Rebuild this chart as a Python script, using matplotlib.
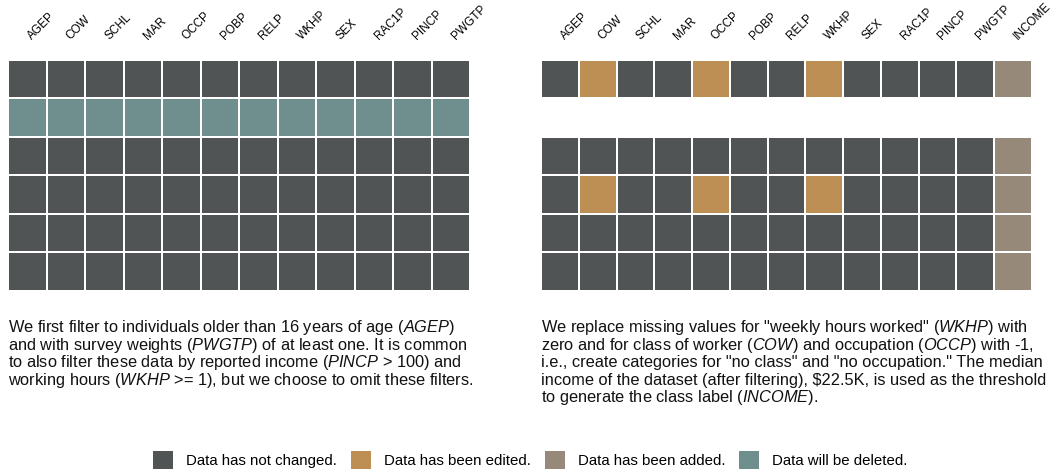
import numpy as np
import matplotlib.pyplot as plt
from matplotlib.colors import ListedColormap
from matplotlib.patches import Patch
from matplotlib.transforms import ScaledTranslation

plt.rcParams["font.family"] = "Liberation Sans"
plt.rcParams["mathtext.fontset"] = "custom"
plt.rcParams["mathtext.rm"] = "Liberation Sans"
plt.rcParams["mathtext.it"] = "Liberation Sans:italic"

# column names
left_cols = ["AGEP", "COW", "SCHL", "MAR", "OCCP", "POBP", "RELP",
             "WKHP", "SEX", "RAC1P", "PINCP", "PWGTP"]
right_cols = left_cols + ["INCOME"]

# cell states: 0 unchanged, 1 edited, 2 added, 3 deleted, nan = removed row
left_states = np.array([
    [0] * 12,
    [3] * 12,
    [0] * 12,
    [0] * 12,
    [0] * 12,
    [0] * 12,
], dtype=float)

right_states = np.array([
    [0, 1, 0, 0, 1, 0, 0, 1, 0, 0, 0, 0, 2],
    [np.nan] * 13,
    [0, 0, 0, 0, 0, 0, 0, 0, 0, 0, 0, 0, 2],
    [0, 1, 0, 0, 1, 0, 0, 1, 0, 0, 0, 0, 2],
    [0, 0, 0, 0, 0, 0, 0, 0, 0, 0, 0, 0, 2],
    [0, 0, 0, 0, 0, 0, 0, 0, 0, 0, 0, 0, 2],
])

state_labels = ["Data has not changed.", "Data has been edited.",
                "Data has been added.", "Data will be deleted."]
state_colors = ["#505455", "#bd8f54", "#978979", "#6f8f8f"]

left_lines = [
    "We first filter to individuals older than 16 years of age ($\\it{AGEP}$)",
    "and with survey weights ($\\it{PWGTP}$) of at least one. It is common",
    "to also filter these data by reported income ($\\it{PINCP}$ > 100) and",
    "working hours ($\\it{WKHP}$ >= 1), but we choose to omit these filters.",
]
right_lines = [
    "We replace missing values for \"weekly hours worked\" ($\\it{WKHP}$) with",
    "zero and for class of worker ($\\it{COW}$) and occupation ($\\it{OCCP}$) with -1,",
    "i.e., create categories for \"no class\" and \"no occupation.\" The median",
    "income of the dataset (after filtering), \\$22.5K, is used as the threshold",
    "to generate the class label ($\\it{INCOME}$).",
]

cmap = ListedColormap(state_colors)
W, H = 1062, 473
fig = plt.figure(figsize=(W / 100, H / 100), dpi=100)


def grid(ax, states, cols):
    data = np.ma.masked_invalid(states)
    ax.pcolormesh(data, cmap=cmap, vmin=-0.5, vmax=3.5,
                  edgecolors="white", linewidth=1.2)
    ax.set_xlim(0, states.shape[1])
    ax.set_ylim(states.shape[0], 0)
    ax.xaxis.tick_top()
    ax.set_xticks(np.arange(states.shape[1]) + 0.5)
    ax.set_xticklabels(cols, rotation=45, ha="left", va="bottom",
                       rotation_mode="anchor", fontsize=8.5)
    ax.tick_params(length=0, pad=13)
    shift = ScaledTranslation(7 / 100, 0, fig.dpi_scale_trans)
    for lab in ax.get_xticklabels():
        lab.set_transform(lab.get_transform() + shift)
    ax.set_yticks([])
    for s in ax.spines.values():
        s.set_visible(False)


def paragraph(x, lines):
    # one text per line so every baseline sits 17.5px below the last
    for i, line in enumerate(lines):
        fig.text(x / W, 1 - (332 + 17.6 * i) / H, line, ha="left",
                 va="baseline", fontsize=11.8, color="#111111")


ax1 = fig.add_axes([8 / W, 1 - 291 / H, 462 / W, 231 / H])
grid(ax1, left_states, left_cols)
ax2 = fig.add_axes([541 / W, 1 - 291 / H, 491 / W, 231 / H])
grid(ax2, right_states, right_cols)

paragraph(8, left_lines)
paragraph(541, right_lines)

handles = [Patch(facecolor=c, edgecolor="none") for c in state_colors]
fig.legend(handles, state_labels, loc="center", ncol=4, frameon=False,
           bbox_to_anchor=(0.4995, 1 - 460 / H), fontsize=10.8,
           handlelength=1.33, handleheight=1.47, handletextpad=0.87,
           columnspacing=0.93, borderpad=0, borderaxespad=0)

fig.savefig("out.png", dpi=100)
